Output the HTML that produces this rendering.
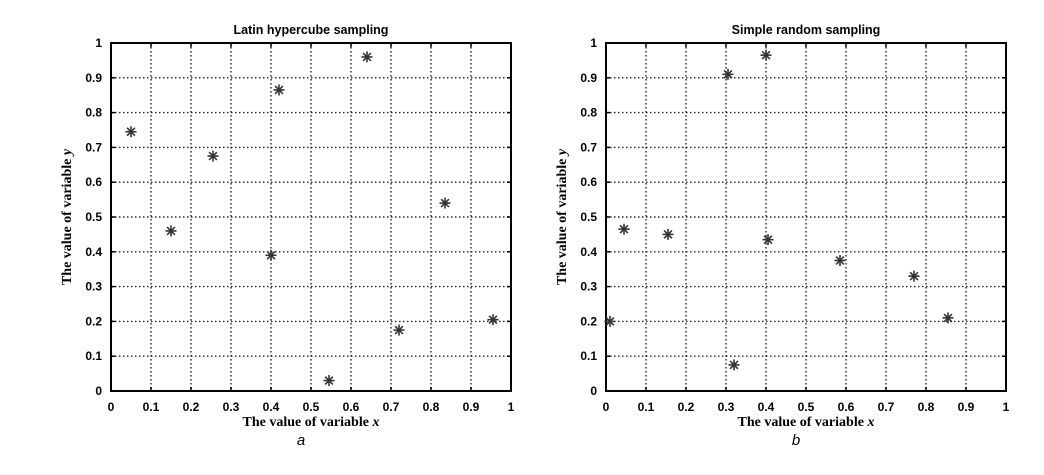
<!DOCTYPE html>
<html><head><meta charset="utf-8"><style>
html,body{margin:0;padding:0;background:#fff;width:1044px;height:475px;overflow:hidden}
.sans{font-family:"Liberation Sans",Arial,sans-serif}
.serif{font-family:"Liberation Serif","Times New Roman",serif}
</style></head><body>
<svg id="chart" width="1044" height="475" xmlns="http://www.w3.org/2000/svg"></svg>
<script>
const ticks = [0,0.1,0.2,0.3,0.4,0.5,0.6,0.7,0.8,0.9,1];
const tickLabels = ["0","0.1","0.2","0.3","0.4","0.5","0.6","0.7","0.8","0.9","1"];
const lhsX = [0.05,0.15,0.255,0.4,0.42,0.545,0.64,0.72,0.835,0.955];
const lhsY = [0.745,0.46,0.675,0.39,0.865,0.03,0.96,0.175,0.54,0.205];
const srsX = [0.01,0.045,0.155,0.305,0.32,0.4,0.405,0.585,0.77,0.855];
const srsY = [0.2,0.465,0.45,0.91,0.075,0.965,0.435,0.375,0.33,0.21];
const titles = ["Latin hypercube sampling","Simple random sampling"];
const panelLetters = ["a","b"];

const NS="http://www.w3.org/2000/svg";
const svg=document.getElementById('chart');
function mk(tag,attrs,parent){const e=document.createElementNS(NS,tag);for(const k in attrs)e.setAttribute(k,attrs[k]);(parent||svg).appendChild(e);return e;}

function panel(idx,left,xs,ys){
  const top=43,W=400,H=348;
  const sx=v=>left+v*W, sy=v=>top+H-v*H;
  const g=mk('g',{});
  
  
  ticks.forEach((t,i)=>{
    if(i>0&&i<ticks.length-1){
      const gx=mk('line',{x1:sx(t),x2:sx(t),y1:top,y2:top+H,stroke:'#222','stroke-width':1.4,'stroke-dasharray':'1.5,2.5'},g);
      
      
      const gy=mk('line',{x1:left,x2:left+W,y1:sy(t),y2:sy(t),stroke:'#222','stroke-width':1.4,'stroke-dasharray':'1.5,2.5'},g);
      
      
    }
    mk('line',{x1:sx(t),x2:sx(t),y1:top+H,y2:top+H-4,stroke:'#000','stroke-width':1.5},g);
    mk('line',{x1:sx(t),x2:sx(t),y1:top,y2:top+4,stroke:'#000','stroke-width':1.5},g);
    mk('line',{x1:left,x2:left+4,y1:sy(t),y2:sy(t),stroke:'#000','stroke-width':1.5},g);
    mk('line',{x1:left+W,x2:left+W-4,y1:sy(t),y2:sy(t),stroke:'#000','stroke-width':1.5},g);
    const xl=mk('text',{class:'sans',x:sx(t),y:top+H+20,'text-anchor':'middle','font-size':12,'font-weight':'bold'},g);
    xl.textContent=tickLabels[i];
    
    
    const yl=mk('text',{class:'sans',x:left-9,y:sy(t)+4,'text-anchor':'end','font-size':12,'font-weight':'bold'},g);
    yl.textContent=tickLabels[i];
    
    
  });
  const fr=mk('rect',{x:left,y:top,width:W,height:H,fill:'none',stroke:'#000','stroke-width':2},g);
  
  
  xs.forEach((v,i)=>{
    const cx=sx(v),cy=sy(ys[i]),r=5.5,d=r*0.707;
    const p=mk('g',{stroke:'#333','stroke-width':1.6},g);
    
    
    mk('line',{x1:cx-r,x2:cx+r,y1:cy,y2:cy},p);
    mk('line',{x1:cx,x2:cx,y1:cy-r,y2:cy+r},p);
    mk('line',{x1:cx-d,x2:cx+d,y1:cy-d,y2:cy+d},p);
    mk('line',{x1:cx-d,x2:cx+d,y1:cy+d,y2:cy-d},p);
  });
  const ti=mk('text',{class:'sans',x:left+W/2,y:top-9,'text-anchor':'middle','font-size':12.5,'font-weight':'bold'},g);
  ti.textContent=titles[idx];
  
  
  const xt=mk('text',{class:'serif',x:left+W/2,y:top+H+35,'text-anchor':'middle','font-size':14,'font-weight':'bold'},g);
  xt.innerHTML='The value of variable <tspan font-style="italic">x</tspan>';
  
  
  const yt=mk('text',{class:'serif',x:0,y:0,'text-anchor':'middle','font-size':14,'font-weight':'bold',transform:`translate(${left-40},${top+H/2}) rotate(-90)`},g);
  yt.innerHTML='The value of variable <tspan font-style="italic">y</tspan>';
  
  
  const lt=mk('text',{class:'sans',x:left+W/2-10,y:445,'text-anchor':'middle','font-size':15,'font-style':'italic'},g);
  lt.textContent=panelLetters[idx];
  
  
}
panel(0,111,lhsX,lhsY);
panel(1,606,srsX,srsY);
</script>
</body></html>
